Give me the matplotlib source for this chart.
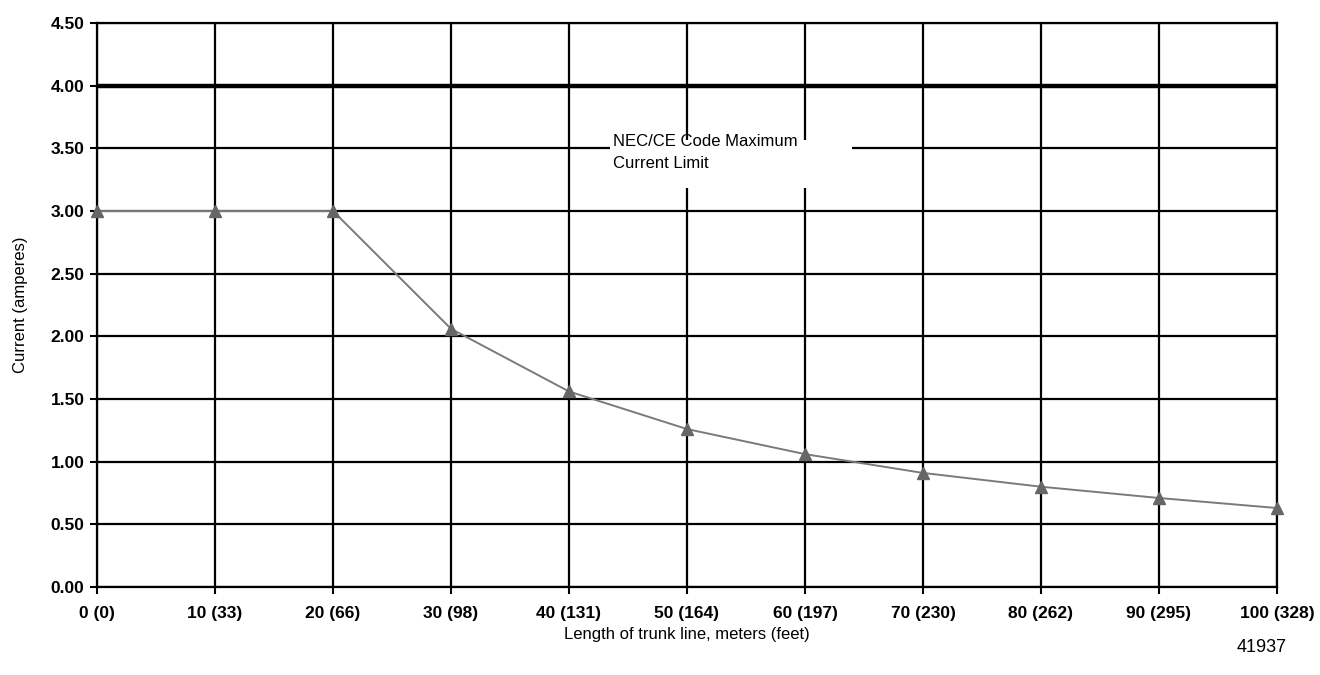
import matplotlib
matplotlib.use("Agg")
import matplotlib.pyplot as plt
from matplotlib.patches import Rectangle

# trunk length in meters, with feet in the tick labels
length_m = [0, 10, 20, 30, 40, 50, 60, 70, 80, 90, 100]
length_ft = [0, 33, 66, 98, 131, 164, 197, 230, 262, 295, 328]
current_a = [3.00, 3.00, 3.00, 2.06, 1.56, 1.26, 1.06, 0.91, 0.80, 0.71, 0.63]
y_ticks = [0.0, 0.5, 1.0, 1.5, 2.0, 2.5, 3.0, 3.5, 4.0, 4.5]
code_limit = 4.0

FAMILY = ["Liberation Sans Narrow", "Liberation Sans", "DejaVu Sans"]


def main():
    plt.rcParams["font.family"] = FAMILY
    fig = plt.figure(figsize=(13.2, 6.75), dpi=100)
    ax = fig.add_axes([0.0735, 0.1304, 0.8939, 0.8355])

    ax.set_xlim(0, 100)
    ax.set_ylim(0, 4.5)
    ax.set_xticks(length_m)
    ax.set_xticklabels([f"{m} ({f})" for m, f in zip(length_m, length_ft)],
                       fontsize=12.5, fontweight="bold")
    ax.set_yticks(y_ticks)
    ax.set_yticklabels([f"{v:.2f}" for v in y_ticks], fontsize=12.5, fontweight="bold")
    ax.tick_params(axis="both", length=5, width=1.5, color="black", pad=4)
    ax.tick_params(axis="x", pad=9)

    ax.grid(True, color="black", linewidth=1.6, zorder=1)
    for s in ax.spines.values():
        s.set_linewidth(1.6)
    ax.axhline(code_limit, color="black", linewidth=3.2, zorder=2)

    # white box behind the annotation text
    ax.add_patch(Rectangle((43.5, 3.18), 20.5, 0.39, facecolor="white",
                           edgecolor="none", zorder=3))
    ax.text(43.7, 3.615, "NEC/CE Code Maximum\nCurrent Limit", fontsize=12,
            va="top", ha="left", linespacing=1.55, zorder=4)

    ax.plot(length_m, current_a, color="#7a7a7a", linewidth=1.4, marker="^",
            markersize=8.5, markerfacecolor="#666666", markeredgecolor="#666666",
            clip_on=False, zorder=5)

    ax.set_xlabel("Length of trunk line, meters (feet)", fontsize=12, labelpad=4)
    ax.set_ylabel("Current (amperes)", fontsize=12, labelpad=16)
    fig.text(0.975, 0.041, "41937", fontsize=13, ha="right", va="center")

    fig.savefig("out.png", dpi=100)


if __name__ == "__main__":
    main()
